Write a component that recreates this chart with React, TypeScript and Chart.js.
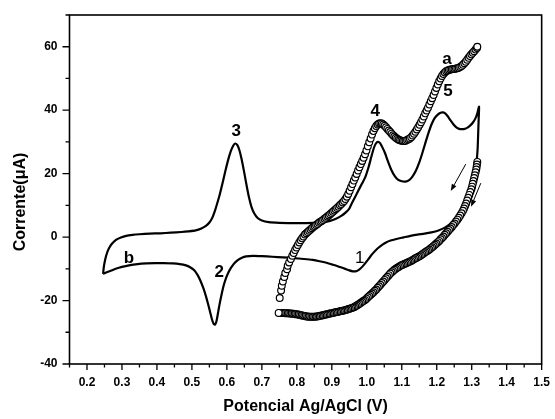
import { useEffect, useRef } from 'react';
import { Chart, registerables } from 'chart.js';

Chart.register(...registerables);

// Potential (V) / current (µA) pairs.
// Curve b: solid voltammogram, anodic sweep then cathodic sweep.
const curveBAnodic: [number, number][] = [
  [0.246, -11.6], [0.248, -9.5], [0.251, -7.6], [0.255, -5.8], [0.26, -4.2], [0.266, -2.9],
  [0.274, -1.8], [0.284, -0.8], [0.297, -0.1], [0.312, 0.4], [0.33, 0.7], [0.35, 0.9],
  [0.38, 1.1], [0.41, 1.2], [0.44, 1.4], [0.47, 1.6], [0.49, 1.8], [0.511, 2.1],
  [0.527, 2.7], [0.54, 3.5], [0.55, 4.6], [0.558, 6.0], [0.565, 8.0], [0.572, 10.5],
  [0.58, 13.6], [0.588, 17.2], [0.596, 21.0], [0.604, 24.5], [0.611, 27.0], [0.618, 28.8],
  [0.624, 29.5], [0.63, 29.0], [0.636, 27.3], [0.642, 24.6], [0.649, 20.7], [0.656, 16.5],
  [0.663, 12.6], [0.67, 9.6], [0.678, 7.5], [0.688, 6.0], [0.7, 5.2], [0.72, 4.7],
  [0.75, 4.5], [0.8, 4.4], [0.85, 4.5], [0.875, 4.7], [0.895, 5.1], [0.912, 5.8],
  [0.927, 6.7], [0.94, 7.8], [0.95, 9.0], [0.958, 10.8], [0.967, 12.7], [0.976, 14.7],
  [0.986, 16.8], [0.996, 19.0], [1.005, 22.0], [1.013, 25.3], [1.02, 28.0], [1.026, 29.5],
  [1.032, 30.0], [1.038, 29.6], [1.045, 28.2], [1.052, 26.5], [1.06, 24.0], [1.07, 21.2],
  [1.08, 19.2], [1.09, 18.0], [1.1, 17.6], [1.11, 17.5], [1.12, 17.9], [1.13, 19.0],
  [1.14, 20.8], [1.149, 23.2], [1.158, 26.2], [1.167, 29.5], [1.176, 32.7], [1.185, 35.5],
  [1.194, 37.5], [1.203, 38.6], [1.211, 39.2], [1.218, 39.3], [1.225, 38.9], [1.232, 38.0],
  [1.24, 36.7], [1.248, 35.5], [1.256, 34.6], [1.264, 34.1], [1.272, 34.0], [1.28, 34.1],
  [1.288, 34.5], [1.296, 35.2], [1.304, 36.2], [1.311, 37.5], [1.316, 39.0], [1.321, 41.1],
];

const curveBCathodic: [number, number][] = [
  [1.32, 37.5], [1.319, 34.3], [1.318, 31.0], [1.317, 28.0], [1.315, 25.0], [1.312, 22.7],
  [1.308, 20.5], [1.302, 18.0], [1.296, 15.6], [1.289, 13.2], [1.281, 10.9], [1.272, 8.8],
  [1.262, 7.0], [1.25, 5.4], [1.237, 4.0], [1.222, 2.9], [1.205, 2.1], [1.185, 1.5],
  [1.165, 1.1], [1.145, 0.8], [1.125, 0.4], [1.105, -0.1], [1.085, -0.6], [1.068, -1.1],
  [1.055, -1.7], [1.045, -2.4], [1.035, -3.2], [1.025, -4.2], [1.016, -5.3], [1.007, -6.6],
  [0.998, -7.9], [0.99, -9.0], [0.982, -9.9], [0.975, -10.5], [0.968, -10.8], [0.96, -10.8],
  [0.95, -10.5], [0.94, -10.1], [0.928, -9.6], [0.915, -9.1], [0.9, -8.6], [0.885, -8.1],
  [0.865, -7.6], [0.845, -7.2], [0.82, -6.9], [0.79, -6.6], [0.76, -6.4], [0.73, -6.2],
  [0.7, -6.0], [0.675, -5.9], [0.655, -6.1], [0.643, -6.5], [0.632, -7.2], [0.622, -8.2],
  [0.613, -9.5], [0.605, -11.0], [0.598, -12.8], [0.591, -15.2], [0.585, -18.0], [0.579, -21.2],
  [0.574, -24.3], [0.57, -26.6], [0.566, -27.6], [0.562, -27.3], [0.557, -25.8], [0.552, -23.6],
  [0.546, -21.0], [0.54, -18.6], [0.533, -16.2], [0.525, -13.9], [0.516, -11.9], [0.506, -10.4],
  [0.495, -9.5], [0.483, -8.9], [0.465, -8.5], [0.445, -8.3], [0.42, -8.2], [0.395, -8.2],
  [0.37, -8.3], [0.345, -8.5], [0.32, -8.9], [0.3, -9.4], [0.282, -10.0], [0.268, -10.6],
  [0.256, -11.1], [0.246, -11.6],
];

// Curve a: open-circle voltammogram, forward sweep.
const curveAForward: [number, number][] = [
  [0.751, -19.2], [0.755, -16.8], [0.757, -15.3], [0.76, -14.0], [0.764, -12.6], [0.767, -11.3],
  [0.772, -10.1], [0.774, -9.0], [0.778, -8.0], [0.783, -6.9], [0.787, -5.9], [0.791, -5.0],
  [0.795, -4.1], [0.799, -3.3], [0.803, -2.5], [0.807, -1.7], [0.811, -1.0], [0.815, -0.4],
  [0.819, 0.2], [0.823, 0.8], [0.827, 1.2], [0.831, 1.6], [0.835, 2.0], [0.839, 2.4],
  [0.843, 2.8], [0.847, 3.2], [0.851, 3.5], [0.855, 3.8], [0.859, 4.1], [0.863, 4.5],
  [0.867, 4.8], [0.871, 5.1], [0.875, 5.4], [0.879, 5.8], [0.883, 6.1], [0.887, 6.5],
  [0.891, 6.8], [0.895, 7.2], [0.899, 7.6], [0.903, 8.0], [0.907, 8.4], [0.911, 8.8],
  [0.915, 9.2], [0.919, 9.6], [0.923, 10.0], [0.927, 10.4], [0.931, 10.9], [0.935, 11.4],
  [0.939, 12.0], [0.943, 12.7], [0.947, 13.6], [0.951, 14.6], [0.955, 15.7], [0.959, 16.7],
  [0.963, 17.8], [0.967, 18.8], [0.971, 19.9], [0.975, 21.0], [0.979, 22.0], [0.983, 23.0],
  [0.987, 24.0], [0.991, 25.0], [0.995, 26.1], [0.999, 27.3], [1.003, 28.6], [1.007, 29.9],
  [1.011, 31.1], [1.015, 32.3], [1.019, 33.4], [1.023, 34.3], [1.027, 35.0], [1.031, 35.5],
  [1.035, 35.8], [1.039, 35.9], [1.043, 35.8], [1.047, 35.5], [1.051, 35.1], [1.055, 34.6],
  [1.059, 34.1], [1.063, 33.6], [1.067, 33.1], [1.071, 32.6], [1.075, 32.1], [1.079, 31.7],
  [1.083, 31.3], [1.087, 31.0], [1.091, 30.7], [1.095, 30.5], [1.099, 30.4], [1.103, 30.3],
  [1.107, 30.3], [1.111, 30.4], [1.115, 30.6], [1.119, 30.8], [1.123, 31.1], [1.127, 31.5],
  [1.131, 32.0], [1.135, 32.6], [1.139, 33.2], [1.143, 33.9], [1.147, 34.6], [1.151, 35.4],
  [1.155, 36.2], [1.159, 37.1], [1.163, 38.0], [1.167, 39.0], [1.171, 39.9], [1.175, 40.8],
  [1.179, 41.8], [1.183, 42.8], [1.187, 43.8], [1.191, 44.8], [1.195, 45.9], [1.199, 47.0],
  [1.203, 48.1], [1.207, 49.1], [1.211, 50.0], [1.215, 50.8], [1.219, 51.4], [1.223, 51.9],
  [1.227, 52.3], [1.231, 52.5], [1.235, 52.7], [1.239, 52.8], [1.243, 52.9], [1.247, 53.0],
  [1.251, 53.0], [1.255, 53.1], [1.259, 53.2], [1.263, 53.4], [1.267, 53.6], [1.271, 53.9],
  [1.275, 54.3], [1.279, 54.8], [1.283, 55.3], [1.287, 55.9], [1.291, 56.5], [1.295, 57.1],
  [1.299, 57.6], [1.303, 58.1], [1.307, 58.6], [1.311, 59.1], [1.315, 59.6], [1.316, 60.0],
];

// Curve a: reverse sweep.
const curveAReverse: [number, number][] = [
  [1.316, 23.7], [1.315, 22.9], [1.314, 22.1], [1.313, 21.3], [1.311, 20.4], [1.309, 19.5],
  [1.307, 18.6], [1.305, 17.7], [1.303, 16.8], [1.301, 15.9], [1.299, 15.1], [1.296, 14.2],
  [1.293, 13.3], [1.29, 12.4], [1.287, 11.5], [1.284, 10.6], [1.281, 9.8], [1.278, 9.0],
  [1.275, 8.3], [1.271, 7.5], [1.267, 6.8], [1.263, 6.1], [1.259, 5.5], [1.255, 4.9],
  [1.251, 4.3], [1.247, 3.8], [1.243, 3.2], [1.239, 2.7], [1.235, 2.2], [1.231, 1.7],
  [1.227, 1.2], [1.223, 0.7], [1.219, 0.2], [1.215, -0.3], [1.211, -0.7], [1.207, -1.2],
  [1.203, -1.6], [1.199, -2.0], [1.195, -2.4], [1.191, -2.8], [1.187, -3.2], [1.183, -3.5],
  [1.179, -3.9], [1.175, -4.2], [1.171, -4.5], [1.167, -4.8], [1.163, -5.1], [1.159, -5.4],
  [1.155, -5.7], [1.151, -6.0], [1.147, -6.2], [1.143, -6.5], [1.139, -6.7], [1.135, -7.0],
  [1.131, -7.2], [1.127, -7.5], [1.123, -7.7], [1.119, -7.9], [1.115, -8.1], [1.111, -8.3],
  [1.107, -8.5], [1.103, -8.7], [1.099, -8.9], [1.095, -9.1], [1.091, -9.4], [1.087, -9.7],
  [1.083, -10.0], [1.079, -10.3], [1.075, -10.7], [1.071, -11.1], [1.067, -11.5], [1.063, -12.0],
  [1.059, -12.5], [1.055, -13.0], [1.051, -13.5], [1.047, -14.0], [1.043, -14.5], [1.039, -15.0],
  [1.035, -15.5], [1.031, -16.0], [1.027, -16.5], [1.023, -16.9], [1.019, -17.4], [1.015, -17.8],
  [1.011, -18.2], [1.007, -18.6], [1.003, -19.0], [0.999, -19.4], [0.995, -19.8], [0.991, -20.1],
  [0.987, -20.4], [0.983, -20.7], [0.979, -21.0], [0.975, -21.3], [0.971, -21.6], [0.967, -21.9],
  [0.963, -22.1], [0.959, -22.3], [0.955, -22.4], [0.951, -22.6], [0.947, -22.7], [0.943, -22.9],
  [0.939, -23.0], [0.935, -23.1], [0.931, -23.2], [0.927, -23.3], [0.923, -23.4], [0.919, -23.5],
  [0.915, -23.6], [0.911, -23.7], [0.907, -23.8], [0.903, -23.9], [0.899, -24.0], [0.895, -24.1],
  [0.891, -24.2], [0.887, -24.3], [0.883, -24.4], [0.879, -24.5], [0.875, -24.6], [0.871, -24.7],
  [0.867, -24.8], [0.863, -24.9], [0.859, -25.0], [0.855, -25.0], [0.851, -25.1], [0.847, -25.1],
  [0.843, -25.1], [0.839, -25.1], [0.835, -25.1], [0.831, -25.0], [0.827, -25.0], [0.823, -24.9],
  [0.819, -24.8], [0.815, -24.7], [0.811, -24.6], [0.807, -24.5], [0.803, -24.4], [0.799, -24.3],
  [0.795, -24.3], [0.791, -24.2], [0.787, -24.2], [0.783, -24.1], [0.779, -24.1], [0.775, -24.0],
  [0.771, -24.0], [0.767, -24.0], [0.763, -23.9], [0.759, -23.9], [0.755, -23.9], [0.751, -23.9],
  [0.748, -23.9],
];

// Axis ticks
const potentialMajor = [0.2, 0.3, 0.4, 0.5, 0.6, 0.7, 0.8, 0.9, 1.0, 1.1, 1.2, 1.3, 1.4, 1.5];
const potentialMinor = [0.15, 0.25, 0.35, 0.45, 0.55, 0.65, 0.75, 0.85, 0.95, 1.05, 1.15, 1.25, 1.35, 1.45];
const currentMajor = [-40, -20, 0, 20, 40, 60];
const currentMinor = [-30, -10, 10, 30, 50, 70];

// Peak / curve annotations: [text, potential, current, bold]
const peakLabels: [string, number, number, boolean][] = [
  ['3', 0.627, 33.8, true],
  ['4', 1.024, 40.0, true],
  ['5', 1.232, 46.3, true],
  ['a', 1.229, 55.8, true],
  ['b', 0.32, -6.1, true],
  ['2', 0.578, -10.6, true],
  ['1', 0.98, -6.1, false],
];

// Sweep-direction arrows: [tailV, tailI, tipV, tipI]
const sweepArrows: [number, number, number, number][] = [
  [1.283, 23.0, 1.24, 14.5],
  [1.326, 17.0, 1.298, 9.6],
];

const FONT = '"Liberation Sans", Arial, Helvetica, sans-serif';

const toXY = (pts: [number, number][]) => pts.map(([x, y]) => ({ x, y }));

const decorPlugin = {
  id: 'decor',
  afterDraw(chart: any) {
    const { ctx, chartArea: a, scales } = chart;
    const xs = scales.x;
    const ys = scales.y;
    ctx.save();

    // frame
    ctx.strokeStyle = '#000';
    ctx.lineWidth = 1.6;
    ctx.strokeRect(a.left, a.top, a.right - a.left, a.bottom - a.top);

    // tick marks (outside, major longer than minor)
    ctx.lineWidth = 1.3;
    ctx.beginPath();
    for (const v of potentialMajor) {
      const p = xs.getPixelForValue(v);
      ctx.moveTo(p, a.bottom);
      ctx.lineTo(p, a.bottom + 6);
    }
    for (const v of potentialMinor) {
      const p = xs.getPixelForValue(v);
      ctx.moveTo(p, a.bottom);
      ctx.lineTo(p, a.bottom + 3.5);
    }
    for (const v of currentMajor) {
      const p = ys.getPixelForValue(v);
      ctx.moveTo(a.left, p);
      ctx.lineTo(a.left - 7, p);
    }
    for (const v of currentMinor) {
      const p = ys.getPixelForValue(v);
      ctx.moveTo(a.left, p);
      ctx.lineTo(a.left - 4, p);
    }
    ctx.stroke();

    // sweep arrows
    ctx.lineWidth = 1;
    ctx.fillStyle = '#000';
    for (const [x0, y0, x1, y1] of sweepArrows) {
      const px0 = xs.getPixelForValue(x0);
      const py0 = ys.getPixelForValue(y0);
      const px1 = xs.getPixelForValue(x1);
      const py1 = ys.getPixelForValue(y1);
      const ang = Math.atan2(py1 - py0, px1 - px0);
      const hl = 7;
      const hw = 2.6;
      const bx = px1 - hl * Math.cos(ang);
      const by = py1 - hl * Math.sin(ang);
      ctx.beginPath();
      ctx.moveTo(px0, py0);
      ctx.lineTo(bx, by);
      ctx.stroke();
      ctx.beginPath();
      ctx.moveTo(px1, py1);
      ctx.lineTo(bx + hw * Math.sin(ang), by - hw * Math.cos(ang));
      ctx.lineTo(bx - hw * Math.sin(ang), by + hw * Math.cos(ang));
      ctx.closePath();
      ctx.fill();
    }

    // peak labels
    ctx.textAlign = 'center';
    ctx.textBaseline = 'alphabetic';
    for (const [t, xv, yv, bold] of peakLabels) {
      const size = 17;
      ctx.font = `${bold ? 'bold ' : ''}${size}px ${FONT}`;
      const lower = t === 'a';
      const off = (lower ? 0.26 : 0.358) * size;
      ctx.fillText(t, xs.getPixelForValue(xv), ys.getPixelForValue(yv) + off);
    }

    // axis titles
    ctx.font = `bold 16px ${FONT}`;
    ctx.fillText('Potencial Ag/AgCl (V)', (a.left + a.right) / 2, 411);
    ctx.save();
    ctx.translate(25, 202);
    ctx.rotate(-Math.PI / 2);
    ctx.fillText('Corrente(\u03BCA)', 0, 0);
    ctx.restore();

    ctx.restore();
  },
};

const circleStyle = {
  showLine: false,
  pointStyle: 'circle' as const,
  pointRadius: 3.4,
  pointBorderWidth: 1.2,
  pointBackgroundColor: '#fff',
  pointBorderColor: '#000',
};

export default function App() {
  const ref = useRef<HTMLCanvasElement>(null);

  useEffect(() => {
    if (!ref.current) return;
    const tickFont = { family: FONT, size: 12, weight: 'bold' as const };
    const chart = new Chart(ref.current, {
      type: 'scatter',
      data: {
        datasets: [
          { label: 'a (forward)', data: toXY(curveAForward), ...circleStyle },
          { label: 'a (reverse)', data: toXY(curveAReverse), ...circleStyle },
          {
            label: 'b',
            data: toXY([...curveBAnodic, ...curveBCathodic]),
            showLine: true,
            borderColor: '#000',
            borderWidth: 2.2,
            pointRadius: 0,
            tension: 0.2,
            fill: false,
          },
        ],
      },
      options: {
        responsive: false,
        devicePixelRatio: 1,
        animation: false,
        events: [],
        layout: { padding: { top: 15, right: 10, left: 0, bottom: 0 } },
        plugins: { legend: { display: false }, tooltip: { enabled: false } },
        scales: {
          x: {
            type: 'linear',
            min: 0.15,
            max: 1.5,
            afterBuildTicks: (s: any) => {
              s.ticks = potentialMajor.map((v) => ({ value: v }));
            },
            afterFit: (s: any) => {
              s.height = 55;
            },
            ticks: {
              font: tickFont,
              color: '#000',
              padding: 5,
              maxRotation: 0,
              autoSkip: false,
              callback: (v: any) => Number(v).toFixed(1),
            },
            grid: { color: 'transparent', tickColor: 'transparent', drawTicks: true, tickLength: 6 },
            border: { display: false },
          },
          y: {
            type: 'linear',
            min: -40,
            max: 70,
            afterBuildTicks: (s: any) => {
              s.ticks = currentMajor.map((v) => ({ value: v }));
            },
            afterFit: (s: any) => {
              s.width = 69.5;
            },
            ticks: {
              font: tickFont,
              color: '#000',
              padding: 5,
              autoSkip: false,
              callback: (v: any) => String(v),
            },
            grid: { color: 'transparent', tickColor: 'transparent', drawTicks: true, tickLength: 7 },
            border: { display: false },
          },
        },
      },
      plugins: [decorPlugin],
    });
    return () => chart.destroy();
  }, []);

  return (
    <div style={{ position: 'absolute', left: 0, top: 0, width: 555, height: 419, background: '#fff' }}>
      <canvas ref={ref} width={555} height={419} style={{ width: 555, height: 419, display: 'block' }} />
    </div>
  );
}
